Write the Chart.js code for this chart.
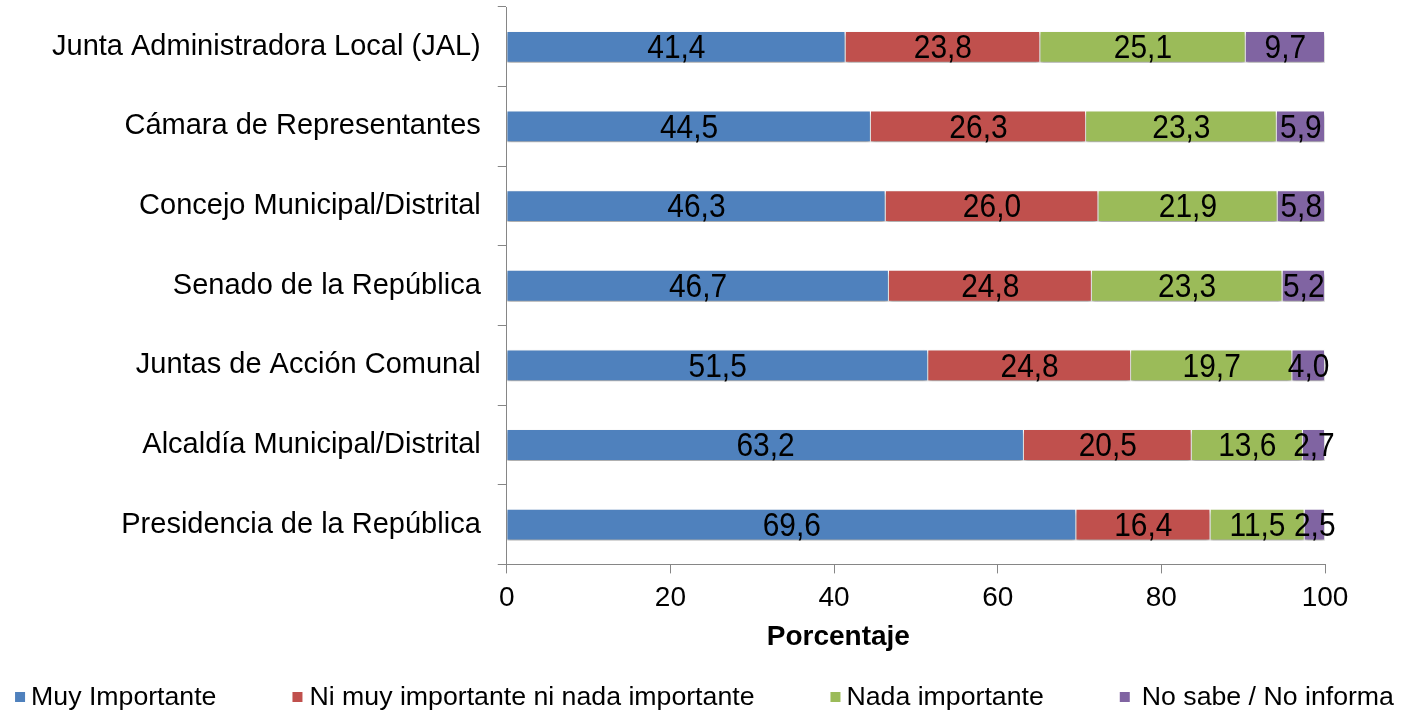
<!DOCTYPE html>
<html>
<head>
<meta charset="utf-8">
<script src="https://cdn.jsdelivr.net/npm/chart.js@4.4.1/dist/chart.umd.min.js"></script>
<style>
  html, body { margin: 0; padding: 0; background: #fff; }
  #wrap { width: 1409px; height: 714px; }
</style>
</head>
<body>
<div id="wrap"><canvas id="grafico" width="1409" height="714"></canvas></div>
<script>
const categorias = [
  "Junta Administradora Local (JAL)",
  "Cámara de Representantes",
  "Concejo Municipal/Distrital",
  "Senado de la República",
  "Juntas de Acción Comunal",
  "Alcaldía Municipal/Distrital",
  "Presidencia de la República"
];
const muyImportante = [41.4, 44.5, 46.3, 46.7, 51.5, 63.2, 69.6];
const niMuyNiNada = [23.8, 26.3, 26.0, 24.8, 24.8, 20.5, 16.4];
const nadaImportante = [25.1, 23.3, 21.9, 23.3, 19.7, 13.6, 11.5];
const noSabe = [9.7, 5.9, 5.8, 5.2, 4.0, 2.7, 2.5];
const series = ["Muy Importante", "Ni muy importante ni nada importante", "Nada importante", "No sabe / No informa"];
const colores = ["#4F81BD", "#C0504D", "#9BBB59", "#8064A2"];
const ejeX = { min: 0, max: 100, paso: 20, titulo: "Porcentaje" };

const fuente = "'Liberation Sans', Arial, sans-serif";
const gris = "#868686";

// sombra de las barras, como en Excel
const sombra = {
  id: "sombra",
  beforeDatasetsDraw(chart) {
    let ctx = chart.ctx;
    ctx.save();
    ctx.shadowColor = "rgba(0,0,0,0.35)";
    ctx.shadowBlur = 4;
    ctx.shadowOffsetY = 3;
  },
  afterDatasetsDraw(chart) {
    chart.ctx.restore();
  }
};

// etiquetas de valor dentro de cada segmento (letra algo estrecha, como en el original)
const etiquetas = {
  id: "etiquetas",
  afterDatasetsDraw(chart) {
    let ctx = chart.ctx;
    chart.data.datasets.forEach((ds, i) => {
      chart.getDatasetMeta(i).data.forEach((bar, j) => {
        ctx.save();
        ctx.translate((bar.x + bar.base) / 2, bar.y + 2);
        ctx.scale(0.88, 1);
        ctx.font = "34px " + fuente;
        ctx.fillStyle = "#000";
        ctx.textAlign = "center";
        ctx.textBaseline = "middle";
        ctx.fillText(ds.data[j].toFixed(1).replace(".", ","), 0, 0);
        ctx.restore();
      });
    });
  }
};

// titulo del eje y leyenda abajo
const abajo = {
  id: "abajo",
  afterDraw(chart) {
    let ctx = chart.ctx;
    ctx.save();
    ctx.fillStyle = "#000";
    ctx.textBaseline = "middle";
    ctx.textAlign = "center";
    ctx.font = "bold 28px " + fuente;
    ctx.fillText(ejeX.titulo, chart.width * 0.595, 637);

    ctx.font = "26.7px " + fuente;
    ctx.textAlign = "left";
    let caja = 10, hueco = 76;
    let seps = [6, 7, 6, 12];
    let anchos = series.map(s => ctx.measureText(s).width);
    let total = anchos.reduce((a, b) => a + b, 0) + series.length * caja +
      seps.reduce((a, b) => a + b, 0) + hueco * (series.length - 1);
    let x = (chart.width - total) / 2;
    let y = 697;
    series.forEach((s, i) => {
      ctx.fillStyle = colores[i];
      ctx.fillRect(x, y - caja / 2, caja, caja);
      ctx.fillStyle = "#000";
      ctx.fillText(s, x + caja + seps[i], y + 1);
      x += caja + seps[i] + anchos[i] + hueco;
    });
    ctx.restore();
  }
};

let ctx = document.getElementById("grafico").getContext("2d");
let grafico = new Chart(ctx, {
  type: "bar",
  data: {
    labels: categorias,
    datasets: [muyImportante, niMuyNiNada, nadaImportante, noSabe].map((d, i) => ({
      label: series[i],
      data: d,
      backgroundColor: colores[i],
      borderColor: "#fff",
      borderWidth: 1,
      barPercentage: 0.4,
      categoryPercentage: 1
    }))
  },
  options: {
    indexAxis: "y",
    responsive: false,
    animation: false,
    layout: { padding: { left: 35, right: 84, top: 7, bottom: 91 } },
    plugins: {
      legend: { display: false },
      tooltip: { enabled: false }
    },
    scales: {
      x: {
        stacked: true,
        min: ejeX.min,
        max: ejeX.max,
        ticks: { stepSize: ejeX.paso, color: "#000", padding: 8, font: { family: fuente, size: 28 } },
        grid: { drawOnChartArea: false, tickLength: 9, color: gris },
        border: { color: gris }
      },
      y: {
        stacked: true,
        ticks: { color: "#000", padding: 17, font: { family: fuente, size: 29 } },
        grid: { drawOnChartArea: false, tickLength: 9, color: gris, offset: true },
        border: { color: gris },
        // sin margen extra arriba/abajo por las etiquetas
        afterFit(scale) {
          scale.paddingTop = 0;
          scale.paddingBottom = 0;
        }
      }
    }
  },
  plugins: [sombra, etiquetas, abajo]
});
</script>
</body>
</html>
